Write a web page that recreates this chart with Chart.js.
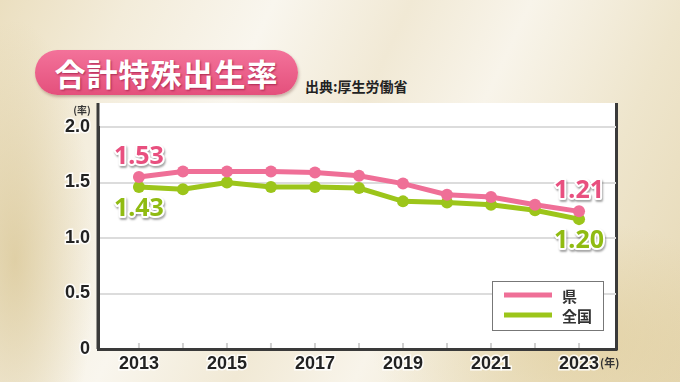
<!DOCTYPE html>
<html>
<head>
<meta charset="utf-8">
<script src="https://cdn.jsdelivr.net/npm/chart.js@4"></script>
<style>
html, body { margin: 0; padding: 0; }
body {
    width: 680px; height: 382px; overflow: hidden; position: relative;
    background:
        radial-gradient(ellipse 200px 120px at 570px 340px, rgba(220,198,140,0.5), rgba(220,198,140,0)),
        radial-gradient(ellipse 80px 240px at 15px 260px, rgba(210,188,130,0.6), rgba(210,188,130,0)),
        linear-gradient(115deg, #ebdfc0 0%, #f3ecda 15%, #f9f6ee 32%, #f1e9d5 48%, #f8f4ea 62%, #eee5cc 80%, #e6d8b4 100%);
}
#title {
    position: absolute; left: 35px; top: 50px; width: 263px; height: 45px;
    border-radius: 23px;
    background: linear-gradient(#f3729a, #e4507c);
    box-shadow: 1px 2px 3px rgba(110, 60, 50, 0.35);
    color: #fff; font: bold 31px "Noto Sans CJK JP"; line-height: 45px;
    text-align: center; letter-spacing: 1px;
    text-shadow: 1px 1px 2px rgba(120, 0, 40, 0.55);
}
#source {
    position: absolute; left: 305px; top: 76px;
    font: bold 14px "Noto Sans CJK JP"; color: #222;
}
canvas { position: absolute; left: 0; top: 0; }
</style>
</head>
<body>
<div id="title">合計特殊出生率</div>
<div id="source">出典:厚生労働省</div>
<canvas id="tfrChart" width="680" height="382"></canvas>
<script>
const years = [2013, 2014, 2015, 2016, 2017, 2018, 2019, 2020, 2021, 2022, 2023];
const prefValues = [1.55, 1.60, 1.60, 1.60, 1.59, 1.56, 1.49, 1.39, 1.37, 1.30, 1.24];
const nationValues = [1.46, 1.44, 1.50, 1.46, 1.46, 1.45, 1.33, 1.32, 1.30, 1.25, 1.17];
const prefEndLabels = ['1.53', '1.21'];
const nationEndLabels = ['1.43', '1.20'];
const yTicks = [0, 0.5, 1.0, 1.5, 2.0];
const xTickLabels = [2013, 2015, 2017, 2019, 2021, 2023];

const PINK = '#ef6f97';
const GREEN = '#9cc51a';

function outlinedText(ctx, text, x, y, color) {
    ctx.save();
    ctx.font = 'bold 25px "Noto Sans"';
    ctx.textAlign = 'center';
    ctx.textBaseline = 'middle';
    ctx.lineJoin = 'round';
    ctx.shadowColor = 'rgba(0,0,0,0.35)';
    ctx.shadowOffsetX = 1;
    ctx.shadowOffsetY = 1.5;
    ctx.shadowBlur = 2;
    ctx.strokeStyle = '#fff';
    ctx.lineWidth = 4;
    ctx.strokeText(text, x, y);
    ctx.shadowColor = 'transparent';
    ctx.fillStyle = color;
    ctx.fillText(text, x, y);
    ctx.restore();
}

const decor = {
    id: 'decor',
    beforeDraw(chart) {
        const { ctx, chartArea: { left, right, bottom } } = chart;
        const xs = chart.scales.x;
        const boxTop = 103;
        ctx.save();
        ctx.fillStyle = '#fff';
        ctx.fillRect(left, boxTop, right - left, bottom - boxTop);
        ctx.fillStyle = '#3a3a3a';
        ctx.fillRect(left - 1.5, boxTop, 3, bottom - boxTop);
        ctx.fillRect(right - 1, boxTop, 3, bottom - boxTop + 1.5);
        // small tick marks inside the plot, one per year
        ctx.strokeStyle = '#d0d0d0';
        ctx.lineWidth = 2;
        years.forEach(yr => {
            const px = xs.getPixelForValue(yr);
            ctx.beginPath();
            ctx.moveTo(px, bottom - 6);
            ctx.lineTo(px, bottom);
            ctx.stroke();
        });
        ctx.restore();
    },
    afterDatasetsDraw(chart) {
        const { ctx } = chart;
        const ends = [
            { ds: 0, labels: prefEndLabels, dy: -20, color: '#e8507f' },
            { ds: 1, labels: nationEndLabels, dy: 22, color: '#90bb12' }
        ];
        ends.forEach(e => {
            const pts = chart.getDatasetMeta(e.ds).data;
            outlinedText(ctx, e.labels[0], pts[0].x, pts[0].y + e.dy, e.color);
            const last = pts[pts.length - 1];
            outlinedText(ctx, e.labels[1], last.x, last.y + e.dy, e.color);
        });

        // legend
        ctx.save();
        ctx.fillStyle = '#fff';
        ctx.strokeStyle = '#777';
        ctx.lineWidth = 1;
        ctx.fillRect(492, 281, 111, 49);
        ctx.strokeRect(492.5, 281.5, 111, 49);
        chart.data.datasets.forEach((d, i) => {
            const y = 295 + i * 20;
            ctx.fillStyle = d.borderColor;
            ctx.fillRect(504, y - 2.5, 48, 5);
            ctx.fillStyle = '#333';
            ctx.font = 'bold 15px "Noto Sans CJK JP"';
            ctx.textBaseline = 'middle';
            ctx.textAlign = 'left';
            ctx.fillText(d.label, 562, y + 1);
        });

        // unit labels
        ctx.fillStyle = '#333';
        ctx.font = 'bold 10px "Noto Sans CJK JP"';
        ctx.textAlign = 'center';
        ctx.fillText('(率)', 82, 110);
        ctx.font = 'bold 11px "Noto Sans CJK JP"';
        ctx.textAlign = 'left';
        ctx.fillText('(年)', 600, 363);
        ctx.restore();
    }
};

new Chart(document.getElementById('tfrChart'), {
    type: 'line',
    data: {
        datasets: [
            {
                label: '県',
                data: years.map((x, i) => ({ x, y: prefValues[i] })),
                borderColor: PINK,
                backgroundColor: PINK,
                borderWidth: 5,
                pointRadius: 6,
                pointBorderWidth: 0
            },
            {
                label: '全国',
                data: years.map((x, i) => ({ x, y: nationValues[i] })),
                borderColor: GREEN,
                backgroundColor: GREEN,
                borderWidth: 5,
                pointRadius: 6,
                pointBorderWidth: 0
            }
        ]
    },
    options: {
        responsive: false,
        animation: false,
        layout: { padding: { top: 127, right: 64, left: 0, bottom: 0 } },
        plugins: { legend: { display: false }, tooltip: { enabled: false } },
        scales: {
            x: {
                type: 'linear',
                min: 2012.07,
                max: 2023.84,
                afterBuildTicks: s => { s.ticks = xTickLabels.map(v => ({ value: v })); },
                afterFit: s => { s.height = 33; },
                grid: { display: false, drawTicks: false },
                border: { color: '#3a3a3a', width: 3 },
                ticks: {
                    padding: 4,
                    color: '#222',
                    font: { family: '"Liberation Sans"', size: 18, weight: 'bold' },
                    textStrokeColor: 'rgba(255,255,255,0.85)',
                    textStrokeWidth: 3,
                    maxRotation: 0,
                    autoSkip: false,
                    callback: v => String(v)
                }
            },
            y: {
                min: 0,
                max: 2.0,
                afterBuildTicks: s => { s.ticks = yTicks.map(v => ({ value: v })); },
                afterFit: s => { s.width = 98; },
                grid: { color: '#dcdcdc', lineWidth: 2, drawTicks: false },
                border: { color: '#3a3a3a', width: 3 },
                ticks: {
                    padding: 8,
                    color: '#222',
                    font: { family: '"Liberation Sans"', size: 18, weight: 'bold' },
                    textStrokeColor: 'rgba(255,255,255,0.85)',
                    textStrokeWidth: 3,
                    callback: v => v === 0 ? '0' : v.toFixed(1)
                }
            }
        }
    },
    plugins: [decor]
});
</script>
</body>
</html>
